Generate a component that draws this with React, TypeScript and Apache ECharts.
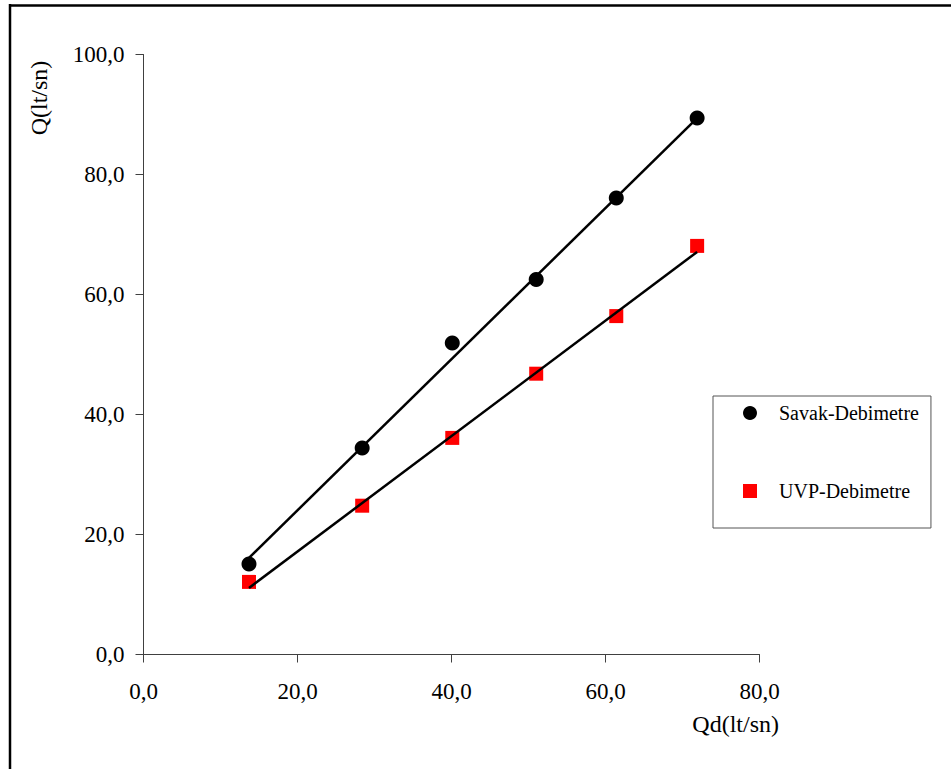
import React, { useEffect, useRef } from 'react';
import * as echarts from 'echarts';

const qd = [13.7, 28.4, 40.1, 51.0, 61.4, 71.9];
const savak = [15.1, 34.4, 51.9, 62.5, 76.1, 89.4];
const uvp = [12.1, 24.8, 36.1, 46.8, 56.4, 68.1];
const trendX = [13.7, 71.9];
const savakTrendY = [16.1, 89.4];
const uvpTrendY = [11.1, 67.1];
const seriesNames = ['Savak-Debimetre', 'UVP-Debimetre'];
const xAxisName = 'Qd(lt/sn)';
const yAxisName = 'Q(lt/sn)';

const FONT = "'Liberation Serif', 'Times New Roman', serif";
const fmt = (v: number) => v.toFixed(1).replace('.', ',');

export default function App() {
  const ref = useRef<HTMLDivElement>(null);
  useEffect(() => {
    if (!ref.current) return;
    const chart = echarts.init(ref.current, undefined, { renderer: 'svg' });
    const pairs = (xs: number[], ys: number[]) => xs.map((x, i) => [x, ys[i]]);
    const axisCommon = {
      axisLine: { show: true, lineStyle: { color: '#404040', width: 1 } },
      axisTick: { show: true, inside: false, length: 8, lineStyle: { color: '#404040', width: 1 } },
      splitLine: { show: false },
    };
    chart.setOption({
      animation: false,
      backgroundColor: '#ffffff',
      grid: { left: 143.5, right: 191.5, top: 54.5, bottom: 114.5, containLabel: false },
      xAxis: {
        type: 'value', min: 0, max: 80, interval: 20,
        ...axisCommon,
        axisLabel: { formatter: fmt, fontFamily: FONT, fontSize: 23, color: '#000', margin: 25 },
      },
      yAxis: {
        type: 'value', min: 0, max: 100, interval: 20,
        ...axisCommon,
        axisLabel: { formatter: fmt, fontFamily: FONT, fontSize: 23, color: '#000', margin: 19 },
      },
      legend: {
        orient: 'vertical', left: 713, top: 396,
        padding: [7, 12, 27, 30], itemGap: 58, itemWidth: 14, itemHeight: 14,
        borderColor: '#555', borderWidth: 1, backgroundColor: '#fff',
        data: [
          { name: seriesNames[0], icon: 'circle' },
          { name: seriesNames[1], icon: 'rect' },
        ],
        textStyle: { fontFamily: FONT, fontSize: 20, color: '#000', lineHeight: 20, padding: [0, 0, 0, 17] },
      },
      graphic: [
        { type: 'line', shape: { x1: 10, y1: 4, x2: 10, y2: 769 }, style: { stroke: '#000', lineWidth: 2.5 } },
        { type: 'line', shape: { x1: 9, y1: 5.5, x2: 951, y2: 5.5 }, style: { stroke: '#000', lineWidth: 2.5 } },
        {
          type: 'text', x: 39, y: 98, rotation: Math.PI / 2,
          style: { text: yAxisName, fontFamily: FONT, fontSize: 24, fill: '#000', align: 'center', verticalAlign: 'middle' },
        },
        {
          type: 'text', x: 779, y: 724,
          style: { text: xAxisName, fontFamily: FONT, fontSize: 24, fill: '#000', align: 'right', verticalAlign: 'middle' },
        },
      ],
      series: [
        {
          name: seriesNames[0], type: 'scatter', symbol: 'circle', symbolSize: 15,
          itemStyle: { color: '#000', opacity: 1 }, data: pairs(qd, savak), z: 2,
        },
        {
          name: seriesNames[1], type: 'scatter', symbol: 'rect', symbolSize: 14,
          itemStyle: { color: '#ff0000', opacity: 1 }, data: pairs(qd, uvp), z: 2,
        },
        {
          name: 'Savak trend', type: 'line', data: pairs(trendX, savakTrendY), symbol: 'none',
          lineStyle: { color: '#000', width: 2.5 }, z: 3, silent: true,
        },
        {
          name: 'UVP trend', type: 'line', data: pairs(trendX, uvpTrendY), symbol: 'none',
          lineStyle: { color: '#000', width: 2.5 }, z: 3, silent: true,
        },
      ],
    });
    return () => chart.dispose();
  }, []);
  return (
    <div
      ref={ref}
      style={{ position: 'fixed', left: 0, top: 0, width: 951, height: 769, background: '#fff' }}
    />
  );
}
